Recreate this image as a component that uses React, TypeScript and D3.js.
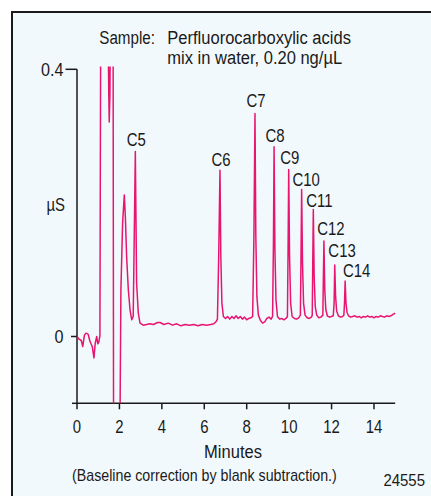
import React from "react";
import * as d3 from "d3";

// Chromatogram trace: [minutes, µS]
const traceTimes: number[] = [
  0.0, 0.1, 0.2, 0.27, 0.35, 0.42, 0.5, 0.53, 0.6, 0.65, 0.72, 0.8, 0.86, 0.93, 0.98, 1.03, 1.08,
  1.12, 1.45, 1.5, 1.52, 1.55, 1.58, 1.7, 1.73, 1.99,
  2.07, 2.15, 2.23, 2.28, 2.34, 2.42, 2.5, 2.58, 2.65, 2.75, 2.81, 2.89, 2.97,
  3.12, 3.44, 3.6, 3.8, 3.91, 4.1, 4.3, 4.5, 4.7, 4.9, 5.1, 5.3, 5.5, 5.7, 5.9, 6.1, 6.3, 6.45, 6.55,
  6.62, 6.68, 6.74, 6.78, 6.83, 6.9,
  7.0, 7.1, 7.2, 7.3, 7.4, 7.5, 7.6, 7.7, 7.8, 7.9, 8.0, 8.1, 8.2,
  8.28, 8.34, 8.39, 8.43, 8.48, 8.55, 8.65,
  8.75, 8.85, 8.95, 9.05, 9.15,
  9.22, 9.26, 9.29, 9.33, 9.38, 9.45, 9.55, 9.65, 9.75, 9.85,
  9.92, 9.95, 9.98, 10.02, 10.07, 10.14, 10.25, 10.35, 10.45,
  10.53, 10.56, 10.59, 10.63, 10.68, 10.75, 10.85, 10.95, 11.05,
  11.09, 11.11, 11.14, 11.18, 11.23, 11.3, 11.4, 11.5,
  11.59, 11.61, 11.64, 11.68, 11.73, 11.8, 11.9, 12.0, 12.08,
  12.12, 12.15, 12.19, 12.24, 12.32, 12.42, 12.52, 12.58,
  12.61, 12.64, 12.68, 12.73, 12.8,
  12.9, 13.0, 13.1, 13.2, 13.3, 13.4, 13.5, 13.6, 13.7, 13.8, 13.9, 14.0, 14.1, 14.2, 14.3, 14.4,
  14.5, 14.6, 14.7, 14.8, 14.9, 15.0,
];
const traceValues: number[] = [
  0.0, -0.004, -0.006, -0.015, 0.002, 0.005, 0.004, 0.003, -0.006, -0.01, -0.015, -0.032, -0.01, 0.0, -0.011, -0.008, 0.001,
  0.5, 0.5, 0.36, 0.321, 0.36, 0.5, 0.5, -0.3, -0.3,
  0.07, 0.17, 0.212, 0.179, 0.119, 0.07, 0.04, 0.025, 0.03, 0.277, 0.08, 0.035, 0.02,
  0.017, 0.019, 0.018, 0.021, 0.021, 0.018, 0.02, 0.017, 0.019, 0.016, 0.018, 0.017, 0.018, 0.016, 0.018, 0.017, 0.018, 0.019, 0.022,
  0.026, 0.12, 0.249, 0.12, 0.05, 0.03,
  0.027, 0.03, 0.026, 0.03, 0.027, 0.031, 0.027, 0.03, 0.026, 0.029, 0.025, 0.027, 0.028,
  0.03, 0.15, 0.334, 0.15, 0.06, 0.032, 0.024,
  0.02, 0.022, 0.027, 0.029, 0.026,
  0.03, 0.14, 0.284, 0.13, 0.055, 0.03, 0.026, 0.027, 0.025, 0.027,
  0.03, 0.13, 0.25, 0.12, 0.05, 0.03, 0.027, 0.026, 0.028,
  0.032, 0.12, 0.22, 0.11, 0.05, 0.032, 0.028, 0.027, 0.029,
  0.032, 0.1, 0.19, 0.09, 0.045, 0.032, 0.028, 0.029,
  0.032, 0.08, 0.143, 0.07, 0.04, 0.031, 0.029, 0.03, 0.031,
  0.05, 0.107, 0.06, 0.038, 0.031, 0.029, 0.03, 0.032,
  0.05, 0.083, 0.05, 0.036, 0.031,
  0.029, 0.03, 0.031, 0.029, 0.03, 0.028, 0.03, 0.029, 0.031, 0.029, 0.03, 0.028, 0.03, 0.029, 0.031, 0.03,
  0.029, 0.031, 0.03, 0.031, 0.033, 0.035,
];

const peakNames: string[] = ["C5", "C6", "C7", "C8", "C9", "C10", "C11", "C12", "C13", "C14"];
const peakTimes: number[] = [2.75, 6.74, 8.39, 9.29, 9.98, 10.59, 11.14, 11.64, 12.15, 12.64];
const peakValues: number[] = [0.277, 0.249, 0.334, 0.284, 0.25, 0.22, 0.19, 0.143, 0.107, 0.083];

const xTicks: number[] = [0, 2, 4, 6, 8, 10, 12, 14];
const yTickValues: number[] = [0.4, 0];
const yTickLabels: string[] = ["0.4", "0"];

// layout
const labelDx = [1, 1, 1, 1, 1, 4.5, 6, 7, 7.3, 11.5];
const labelGap = [5, 4.5, 6.5, 5, 6, 3.5, 3, 6, 8, 4.5];

const FONT = "'Liberation Sans', Arial, Helvetica, sans-serif";
const PINK = "#e8146f";
const INK = "#1a1a1a";

function T(props: {
  x: number;
  y: number;
  size?: number;
  anchor?: "start" | "middle" | "end";
  sx?: number;
  children: React.ReactNode;
}) {
  const { x, y, size = 18, anchor = "start", sx = 0.83, children } = props;
  return (
    <text
      transform={`translate(${x},${y}) scale(${sx},1)`}
      fontSize={size}
      textAnchor={anchor}
      fill={INK}
    >
      {children}
    </text>
  );
}

export default function App() {
  const W = 431;
  const H = 496;
  const x = d3.scaleLinear().domain([0, 15]).range([77, 395.2]);
  const y = d3.scaleLinear().domain([-0.1, 0.4]).range([403.3, 69.3]);
  const pts: [number, number][] = traceTimes.map((t, i) => [t, traceValues[i]]);
  const line = d3
    .line<[number, number]>()
    .x((d) => x(d[0]))
    .y((d) => y(d[1]));
  const y0 = y(0);
  const yBot = y(-0.1);
  const yTop = y(0.4);

  return (
    <svg
      width={W}
      height={H}
      style={{ position: "absolute", left: 0, top: 0, display: "block" }}
      fontFamily={FONT}
    >
      <rect x={0} y={0} width={W} height={H} fill="#ffffff" />
      <rect x={12} y={12} width={W + 20} height={H + 20} fill="#f2f9fd" stroke={INK} strokeWidth={2} />
      <defs>
        <clipPath id="plotClip">
          <rect x={x(0) - 1} y={66.5} width={x(15) - x(0) + 2} height={yBot - 66.5} />
        </clipPath>
      </defs>

      {/* title */}
      <T x={99.3} y={44} size={19} sx={0.8}>Sample:</T>
      <T x={167.3} y={44} size={19} sx={0.87}>Perfluorocarboxylic acids</T>
      <T x={167.3} y={64.3} size={19} sx={0.87}>mix in water, 0.20 ng/µL</T>

      {/* y axis */}
      <line x1={x(0)} x2={x(0)} y1={yTop} y2={yBot} stroke={INK} strokeWidth={1.5} />
      <line x1={65.5} x2={x(0)} y1={yTop} y2={yTop} stroke={INK} strokeWidth={1.5} />
      <line x1={71} x2={x(0)} y1={y0} y2={y0} stroke={INK} strokeWidth={1.5} />
      <line x1={72} x2={x(0)} y1={yBot} y2={yBot} stroke={INK} strokeWidth={1.5} />
      {yTickValues.map((v, i) => (
        <T key={yTickLabels[i]} x={63.5} y={y(v) + 6.5} anchor="end" sx={0.9}>
          {yTickLabels[i]}
        </T>
      ))}
      <T x={65} y={211} anchor="end">µS</T>

      {/* x axis */}
      <line x1={x(0)} x2={x(15)} y1={yBot} y2={yBot} stroke={INK} strokeWidth={1.5} />
      {xTicks.map((t) => (
        <g key={t}>
          <line x1={x(t)} x2={x(t)} y1={yBot} y2={yBot + 6} stroke={INK} strokeWidth={1.5} />
          <T x={x(t)} y={433.3} anchor="middle">
            {t}
          </T>
        </g>
      ))}
      <T x={233} y={458.3} size={19} anchor="middle" sx={0.87}>Minutes</T>
      <T x={72} y={480.5} size={16} sx={0.89}>(Baseline correction by blank subtraction.)</T>
      <T x={425} y={486} size={17} anchor="end" sx={0.88}>24555</T>

      {/* trace */}
      <path
        d={line(pts) || ""}
        fill="none"
        stroke={PINK}
        strokeWidth={1.5}
        strokeLinejoin="round"
        clipPath="url(#plotClip)"
      />

      {/* peak labels */}
      {peakNames.map((n, i) => (
        <T
          key={n}
          x={x(peakTimes[i]) + labelDx[i]}
          y={y(peakValues[i]) - labelGap[i]}
          anchor="middle"
        >
          {n}
        </T>
      ))}
    </svg>
  );
}
